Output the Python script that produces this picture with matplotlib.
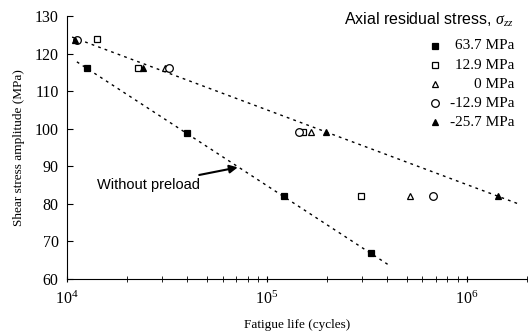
import numpy as np
import matplotlib
matplotlib.use('Agg')
import matplotlib.pyplot as plt

plt.rcParams['font.family'] = 'Liberation Serif'
plt.rcParams['mathtext.fontset'] = 'custom'
plt.rcParams['mathtext.rm'] = 'Liberation Serif'
plt.rcParams['mathtext.it'] = 'Liberation Serif:italic'

# data (cycles, MPa)
n_637 = [1.26e4, 3.96e4, 1.22e5, 3.33e5]
s_637 = [116.2, 98.9, 82.1, 66.9]
n_129 = [1.41e4, 2.27e4, 1.52e5, 2.97e5]
s_129 = [123.9, 116.2, 99.2, 82.1]
n_0 = [3.1e4, 1.66e5, 5.2e5]
s_0 = [116.2, 99.0, 82.1]
n_m129 = [1.12e4, 3.25e4, 1.45e5, 6.8e5]
s_m129 = [123.7, 116.2, 99.2, 82.1]
n_m257 = [1.09e4, 2.4e4, 1.97e5, 1.43e6]
s_m257 = [123.7, 116.2, 99.0, 82.2]

# dashed trend lines
fit_hi_n = [1.06e4, 1.85e6]
fit_hi_s = [124.4, 79.8]
fit_lo_n = [1.12e4, 4.15e5]
fit_lo_s = [117.8, 63.4]

labels = ['63.7 MPa', '12.9 MPa', '0 MPa', '-12.9 MPa', '-25.7 MPa']
markers = ['s', 's', '^', 'o', '^']
faces = ['k', 'w', 'w', 'w', 'k']
sizes = [4.5, 4.5, 4.5, 5.5, 5]
series = [(n_637, s_637), (n_129, s_129), (n_0, s_0), (n_m129, s_m129), (n_m257, s_m257)]

fig = plt.figure(figsize=(5.28, 3.34), dpi=100)
ax = fig.add_axes([0.127, 0.165, 0.871, 0.787])

ax.plot(fit_hi_n, fit_hi_s, color='k', lw=1, ls=(0, (2, 3)))
ax.plot(fit_lo_n, fit_lo_s, color='k', lw=1, ls=(0, (2, 3)))

for (n, s), m, fc, ms in zip(series, markers, faces, sizes):
    ax.plot(n, s, ls='none', marker=m, mfc=fc, mec='k', mew=0.9, ms=ms)

ax.set_xscale('log')
ax.set_xlim(1e4, 2e6)
ax.set_ylim(60, 130)
ax.set_yticks(np.arange(60, 131, 10))
for sp in ['top', 'right']:
    ax.spines[sp].set_visible(False)
ax.tick_params(axis='y', direction='in', length=4, labelsize=11.5, pad=6)
ax.tick_params(axis='x', which='both', direction='inout', length=5, labelsize=11.5)
ax.tick_params(axis='x', which='major', pad=6)

ax.set_xlabel('Fatigue life (cycles)', fontsize=9.5, labelpad=8)
ax.set_ylabel('Shear stress amplitude (MPa)', fontsize=9.5, labelpad=7)

ax.annotate('Without preload', xy=(7.15e4, 89.7), xytext=(2.55e4, 85.0),
            ha='center', va='center', fontsize=10.5, family='Liberation Sans',
            arrowprops=dict(arrowstyle='-|>', color='k', lw=1.5,
                            mutation_scale=12, shrinkA=1, shrinkB=0))

# legend drawn by hand so the labels right-align like the original
ax.text(0.972, 0.985, r'Axial residual stress, $\sigma_{zz}$', transform=ax.transAxes,
        ha='right', va='center', fontsize=11.5, family='Liberation Sans')
for i, (lab, m, fc, ms) in enumerate(zip(labels, markers, faces, sizes)):
    yy = 0.886 - i * 0.0725
    ax.plot([0.80], [yy], transform=ax.transAxes, marker=m, mfc=fc, mec='k',
            mew=0.9, ms=ms, ls='none', clip_on=False)
    ax.text(0.972, yy, lab, transform=ax.transAxes, ha='right', va='center', fontsize=11)

fig.savefig('out.png', dpi=100)
